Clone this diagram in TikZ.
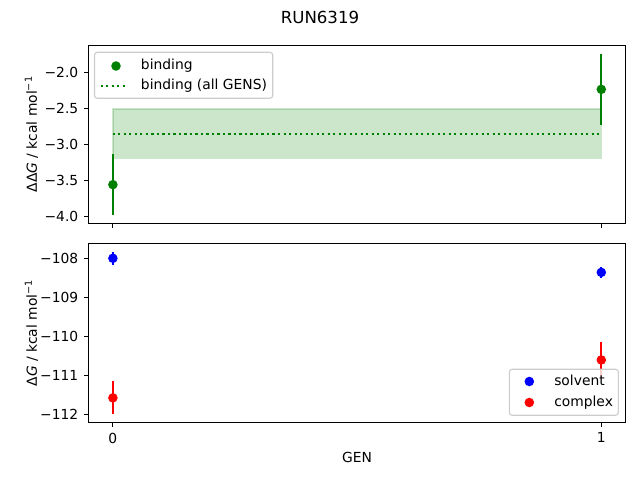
\documentclass[tikz,border=0pt]{standalone}
\usepackage{fontspec}
\setmainfont{DejaVu Sans}
\usetikzlibrary{positioning}
\definecolor{mplgreen}{HTML}{008000}
\definecolor{mplblue}{HTML}{0000FF}
\definecolor{mplred}{HTML}{FF0000}
\tikzset{
  declare function={gx(\g)=112.9+488.4*(\g); ty(\v)=72.3+(-2-(\v))*72.2; by(\v)=258.3+(-108-(\v))*39.1;},
  frame/.style={line width=0.8pt},
  tickmark/.style={line width=0.8pt},
  ticklabel/.style={font=\fontsize{10}{12}\selectfont, inner sep=0pt},
  legtext/.style={ticklabel, anchor=base west},
  errbar/.style={line width=1.5pt},
  marker/.style={circle, inner sep=0pt, minimum size=6.9pt},
  band/.style={fill=mplgreen, fill opacity=0.2, draw=mplgreen, draw opacity=0.2, line width=1pt},
  legendbox/.style={draw=black!20, fill=white, fill opacity=0.8, line width=0.8pt, rounded corners=2pt},
}

\begin{document}
\begin{tikzpicture}[x=0.01in, y=-0.01in]
  \useasboundingbox (0,0) rectangle (640,480);

  \node[font=\fontsize{12}{14}\selectfont] (title) at (320,17) {RUN6319};

  % top panel: binding
  \draw[band] ({gx(0)},{ty(-2.51)}) rectangle ({gx(1)},{ty(-3.19)});
  \draw[mplgreen, line width=1.5pt, dash pattern=on 1.5pt off 2.475pt] ({gx(0)},{ty(-2.857)}) -- ({gx(1)},{ty(-2.857)});
  \draw[errbar, mplgreen] ({gx(0)},{ty(-3.976)}) -- ({gx(0)},{ty(-3.136)});
  \draw[errbar, mplgreen] ({gx(1)},{ty(-2.726)}) -- ({gx(1)},{ty(-1.746)});
  \node[marker, fill=mplgreen] (bind0) at ({gx(0)},{ty(-3.556)}) {};
  \node[marker, fill=mplgreen] (bind1) at ({gx(1)},{ty(-2.236)}) {};

  \draw[frame] ({gx(-0.05)},{ty(-1.626)}) rectangle ({gx(1.05)},{ty(-4.092)});
  \foreach \v/\lab in {-2.0/−2.0, -2.5/−2.5, -3.0/−3.0, -3.5/−3.5, -4.0/−4.0}
    \draw[tickmark] ({gx(-0.05)},{ty(\v)}) -- ++(-3.5pt,0) node[ticklabel, left=3.5pt] {\lab};
  \foreach \g in {0,1}
    \draw[tickmark] ({gx(\g)},{ty(-4.092)}) -- ++(0,-3.5pt);
  \node[ticklabel, rotate=90, anchor=base] (ylabtop) at (36.8,134.2) {ΔΔ\textit{G} / kcal mol\textsuperscript{−1}};

  \draw[legendbox] (94.5,52.3) rectangle (272.7,98.3);
  \node[marker, fill=mplgreen] (legbind) at (116,66) {};
  \draw[mplgreen, line width=1.5pt, dash pattern=on 1.5pt off 2.475pt] (100.7,86) -- (126,86);
  \node[legtext] (txtbind) at (140.7,70) {binding};
  \node[legtext] (txtall) at (140.7,90) {binding (all GENS)};

  % bottom panel: solvent and complex
  \draw[errbar, mplblue] ({gx(0)},{by(-108.17)}) -- ({gx(0)},{by(-107.83)});
  \draw[errbar, mplblue] ({gx(1)},{by(-108.51)}) -- ({gx(1)},{by(-108.21)});
  \draw[errbar, mplred] ({gx(0)},{by(-111.99)}) -- ({gx(0)},{by(-111.15)});
  \draw[errbar, mplred] ({gx(1)},{by(-111.07)}) -- ({gx(1)},{by(-110.13)});
  \node[marker, fill=mplblue] (solv0) at ({gx(0)},{by(-108.0)}) {};
  \node[marker, fill=mplblue] (solv1) at ({gx(1)},{by(-108.36)}) {};
  \node[marker, fill=mplred] (cplx0) at ({gx(0)},{by(-111.57)}) {};
  \node[marker, fill=mplred] (cplx1) at ({gx(1)},{by(-110.6)}) {};

  \draw[frame] ({gx(-0.05)},{by(-107.62)}) rectangle ({gx(1.05)},{by(-112.2)});
  \foreach \v/\lab in {-108/−108, -109/−109, -110/−110, -111/−111, -112/−112}
    \draw[tickmark] ({gx(-0.05)},{by(\v)}) -- ++(-3.5pt,0) node[ticklabel, left=3.5pt] {\lab};
  \foreach \g in {0,1}
    \draw[tickmark] ({gx(\g)},{by(-112.2)}) -- ++(0,-3.5pt) node[ticklabel, below=3.5pt] {\g};
  \node[ticklabel, rotate=90, anchor=base] (ylabbot) at (36.8,332.9) {Δ\textit{G} / kcal mol\textsuperscript{−1}};
  \node[ticklabel] (xlab) at (357,457.3) {GEN};

  \draw[legendbox] (509.3,369.3) rectangle (618.3,415.3);
  \node[marker, fill=mplblue] (legsolv) at (529.3,381.5) {};
  \node[marker, fill=mplred] (legcplx) at (529.3,402.5) {};
  \node[legtext] (txtsolv) at (554,385.5) {solvent};
  \node[legtext] (txtcplx) at (554,406.5) {complex};
\end{tikzpicture}
\end{document}
